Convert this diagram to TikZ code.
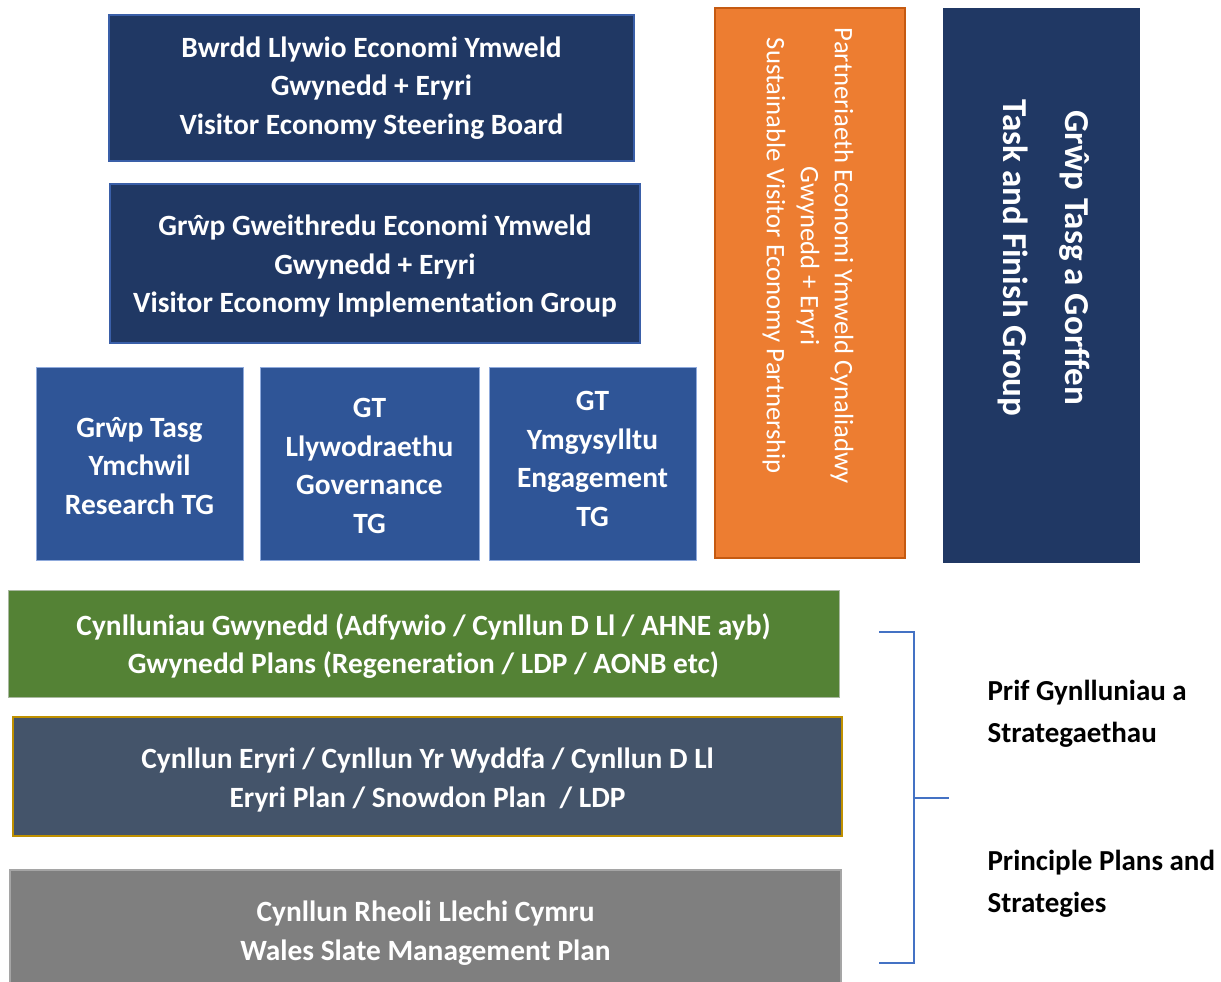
\documentclass[tikz,border=0pt]{standalone}
\usepackage{fontspec}
\setmainfont{Carlito}[Ligatures=CommonOff]
\definecolor{navy}{HTML}{203864}
\definecolor{navyedge}{HTML}{3A5FA8}
\definecolor{midblue}{HTML}{2F5597}
\definecolor{midedge}{HTML}{8FAADC}
\definecolor{orangefill}{HTML}{ED7D31}
\definecolor{orangeedge}{HTML}{C55A11}
\definecolor{greenfill}{HTML}{548235}
\definecolor{greenedge}{HTML}{A9B8A0}
\definecolor{slatefill}{HTML}{44546A}
\definecolor{goldedge}{HTML}{BF9000}
\definecolor{grayfill}{HTML}{7F7F7F}
\definecolor{grayedge}{HTML}{A5A5A5}
\definecolor{bracketblue}{HTML}{4472C4}
\tikzset{
  boxtext/.style={text=white, align=center, font=\bfseries\fontsize{29.4}{38.7}\selectfont},
  rect/.style={draw, line width=1.5pt},
  sidetext/.style={anchor=west, align=left, font=\bfseries\fontsize{29}{41.5}\selectfont},
}
\begin{document}
\begin{tikzpicture}[x=1pt, y=-1pt]
\useasboundingbox (0,0) rectangle (1221,982);
\clip (0,0) rectangle (1221,982);
% top boxes
\draw[rect, fill=navy, draw=navyedge] (109,15) rectangle (634,161);
\node[boxtext] (steer) at (371.5,88) {Bwrdd Llywio Economi Ymweld\\Gwynedd + Eryri\\Visitor Economy Steering Board};
\draw[rect, fill=navy, draw=navyedge] (110,184) rectangle (640,343);
\node[boxtext] (impl) at (375,266) {Grŵp Gweithredu Economi Ymweld\\Gwynedd + Eryri\\Visitor Economy Implementation Group};
% task groups
\draw[rect, fill=midblue, draw=midedge, line width=1pt] (36,367) rectangle (243,560);
\node[boxtext] (research) at (139.5,466) {Grŵp Tasg\\Ymchwil\\Research TG};
\draw[rect, fill=midblue, draw=midedge, line width=1pt] (260,367) rectangle (479,560);
\node[boxtext] (gov) at (369.5,466) {GT\\Llywodraethu\\Governance\\TG};
\draw[rect, fill=midblue, draw=midedge, line width=1pt] (489,367) rectangle (696,560);
\node[boxtext] (engage) at (592.5,459) {GT\\Ymgysylltu\\Engagement\\TG};
% orange partnership
\draw[rect, fill=orangefill, draw=orangeedge] (715,8) rectangle (905,558);
\node[text=white, align=center, rotate=-90, font=\fontsize{26.7}{34}\selectfont] (partner) at (808,256) {Partneriaeth Economi Ymweld Cynaliadwy\\Gwynedd + Eryri\\Sustainable Visitor Economy Partnership};
% navy task and finish
\fill[navy] (943,8) rectangle (1140,563);
\node[text=white, align=center, rotate=-90, font=\bfseries\fontsize{35}{62}\selectfont] (tfg) at (1044,258) {Grŵp Tasg a Gorffen\\Task and Finish Group};
% plans
\draw[rect, fill=greenfill, draw=greenedge, line width=1pt] (8,590) rectangle (839,697);
\node[boxtext] (gplans) at (423.5,646) {Cynlluniau Gwynedd (Adfywio / Cynllun D Ll / AHNE ayb)\\Gwynedd Plans (Regeneration / LDP / AONB etc)};
\draw[rect, fill=slatefill, draw=goldedge, line width=2pt] (13,717) rectangle (842,836);
\node[boxtext] (eplans) at (427.5,780) {Cynllun Eryri / Cynllun Yr Wyddfa / Cynllun D Ll\\Eryri Plan / Snowdon Plan~~/ LDP};
\draw[rect, fill=grayfill, draw=grayedge, line width=1.5pt] (10,870) rectangle (841,1000);
\node[boxtext] (slate) at (425.5,933) {Cynllun Rheoli Llechi Cymru\\Wales Slate Management Plan};
% bracket
\coordinate (bt) at (879,632);
\coordinate (bb) at (879,963);
\coordinate (bm) at (949,798);
\draw[bracketblue, line width=2pt] (bt) -- (914,632) -- (914,963) -- (bb);
\draw[bracketblue, line width=2pt] (914,798) -- (bm);
\node[sidetext] (prif) at (984,714) {Prif Gynlluniau a\\Strategaethau};
\node[sidetext] (principle) at (984,884) {Principle Plans and\\Strategies};
\end{tikzpicture}
\end{document}
